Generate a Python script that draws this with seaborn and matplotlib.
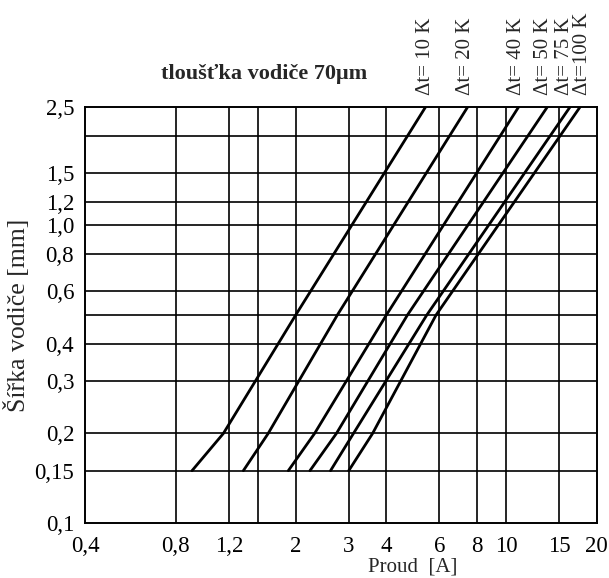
import pandas as pd
import seaborn as sns
import matplotlib.pyplot as plt
from matplotlib.ticker import NullFormatter
from matplotlib.transforms import blended_transform_factory, offset_copy

# conductor width [mm] at which the currents were read
width_mm = [0.15, 0.2, 0.5, 2.5]

# current [A] for each temperature rise
current_10K = [0.905, 1.15, 2.0, 5.4]
current_20K = [1.34, 1.62, 2.75, 7.45]
current_40K = [1.89, 2.31, 4.0, 11.0]
current_50K = [2.23, 2.73, 4.7, 13.7]
current_75K = [2.61, 3.11, 5.45, 16.3]
current_100K = [3.0, 3.6, 5.85, 17.6]

delta_labels = ['Δt= 10 K', 'Δt= 20 K', 'Δt= 40 K', 'Δt= 50 K', 'Δt= 75 K', 'Δt=100 K']

x_grid = [0.8, 1.2, 1.5, 2, 3, 4, 6, 8, 10, 15]
x_ticks = [0.4, 0.8, 1.2, 2, 3, 4, 6, 8, 10, 15, 20]
x_ticklabels = ['0,4', '0,8', '1,2', '2', '3', '4', '6', '8', '10', '15', '20']
y_grid = [0.15, 0.2, 0.3, 0.4, 0.5, 0.6, 0.8, 1.0, 1.2, 1.5, 2.0]
y_ticks = [0.1, 0.15, 0.2, 0.3, 0.4, 0.6, 0.8, 1.0, 1.2, 1.5, 2.5]
y_ticklabels = ['0,1', '0,15', '0,2', '0,3', '0,4', '0,6', '0,8', '1,0', '1,2', '1,5', '2,5']

series = [current_10K, current_20K, current_40K, current_50K, current_75K, current_100K]
rows = []
for lab, cur in zip(delta_labels, series):
    for x, y in zip(cur, width_mm):
        rows.append({'dT': lab, 'current': x, 'width': y})
df = pd.DataFrame(rows)

sns.set_style('white')
plt.rcParams['font.family'] = ['Liberation Serif', 'DejaVu Serif']

fig, ax = plt.subplots(figsize=(6.09, 5.78), dpi=100)
fig.subplots_adjust(left=0.14, right=0.98, top=0.815, bottom=0.095)

sns.lineplot(data=df, x='current', y='width', hue='dT', palette=['black'] * 6,
             estimator=None, sort=False, legend=False, linewidth=2.0, ax=ax)

ax.set_xscale('log')
ax.set_yscale('log')
ax.set_xlim(0.4, 20)
ax.set_ylim(0.1, 2.5)

ax.set_xticks(x_ticks)
ax.set_xticklabels(x_ticklabels)
ax.set_xticks(x_grid, minor=True)
ax.set_yticks(y_ticks)
ax.set_yticklabels(y_ticklabels)
ax.set_yticks(y_grid, minor=True)
ax.xaxis.set_minor_formatter(NullFormatter())
ax.yaxis.set_minor_formatter(NullFormatter())
ax.xaxis.remove_overlapping_locs = False
ax.yaxis.remove_overlapping_locs = False
ax.tick_params(which='both', length=0, labelsize=16.5, colors='black')
ax.tick_params(axis='x', pad=9)
ax.tick_params(axis='y', pad=8)
ax.grid(False, which='major')
ax.grid(True, which='minor', color='black', linewidth=1.2)

for s in ax.spines.values():
    s.set_color('black')
    s.set_linewidth(1.4)

ax.set_xlabel('Proud  [A]', fontsize=15)
ax.xaxis.set_label_coords(0.64, -0.082)
ax.set_ylabel('Šířka vodiče [mm]', fontsize=18.5)
ax.yaxis.set_label_coords(-0.108, 0.5)

ax.text(0.35, 1.055, 'tloušťka vodiče 70μm', transform=ax.transAxes,
        ha='center', va='bottom', fontsize=16, fontweight='bold')

# the crowded labels on the right are nudged apart so they stay readable
label_shift = [0, -2, -2, -4, -6, 2]
trans = blended_transform_factory(ax.transData, ax.transAxes)
for lab, cur, dx in zip(delta_labels, series, label_shift):
    t = offset_copy(trans, fig=fig, x=dx, y=0, units='dots')
    ax.text(cur[-1], 1.028, lab, transform=t, rotation=90,
            ha='center', va='bottom', fontsize=15)

fig.savefig('out.png', dpi=100)
